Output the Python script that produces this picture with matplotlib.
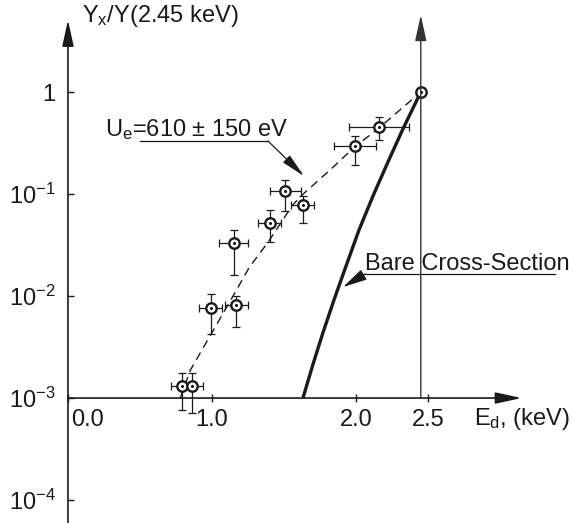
import numpy as np
import matplotlib
matplotlib.use("Agg")
import matplotlib.pyplot as plt
import matplotlib.transforms as mtransforms
from matplotlib.ticker import NullLocator

# deuteron energy (keV) vs. yield normalised at 2.45 keV
e_d = [0.79, 0.86, 0.99, 1.15, 1.17, 1.40, 1.51, 1.63, 1.99, 2.16, 2.45]
ratio = [1.31e-3, 1.31e-3, 7.7e-3, 3.3e-2, 8.1e-3, 5.2e-2, 0.107, 0.078, 0.297, 0.457, 1.0]
e_err = [0.075, 0.075, 0.083, 0.10, 0.083, 0.08, 0.11, 0.08, 0.146, 0.205, 0.0]
ratio_lo = [7.6e-4, 7.1e-4, 4.27e-3, 1.59e-2, 5.0e-3, 3.37e-2, 0.068, 0.052, 0.193, 0.34, 1.0]
ratio_hi = [1.76e-3, 1.76e-3, 1.04e-2, 4.4e-2, 1.01e-2, 6.95e-2, 0.137, 0.095, 0.373, 0.574, 1.0]

# screened fit (Ue = 610 eV), dashed
fit_e = [0.78, 0.85, 0.97, 1.15, 1.26, 1.39, 1.56, 1.64, 1.82, 1.99, 2.16, 2.45]
fit_y = [1.0e-3, 1.88e-3, 3.7e-3, 1.02e-2, 1.92e-2, 3.38e-2, 7.8e-2, 0.102, 0.172, 0.289, 0.444, 1.0]

# bare cross-section curve
bare_e = [1.632, 1.70, 1.77, 1.847, 1.931, 2.021, 2.118, 2.222, 2.326, 2.45]
bare_y = [1.0e-3, 2.11e-3, 4.34e-3, 9.14e-3, 1.97e-2, 4.44e-2, 9.55e-2, 0.206, 0.434, 1.0]

x_ticks = [0.0, 1.0, 2.0, 2.5]
x_labels = ["0.0", "1.0", "2.0", "2.5"]
y_ticks = [1e-4, 1e-3, 1e-2, 1e-1, 1.0]
y_labels = ["10$^{-4}$", "10$^{-3}$", "10$^{-2}$", "10$^{-1}$", "1"]

plt.rcParams["font.family"] = ["Liberation Sans", "DejaVu Sans"]
plt.rcParams["mathtext.fontset"] = "custom"
plt.rcParams["mathtext.rm"] = "Liberation Sans"
plt.rcParams["mathtext.it"] = "Liberation Sans:italic"
plt.rcParams["mathtext.bf"] = "Liberation Sans:bold"

INK = "#1a1a1a"
FS = 17

fig = plt.figure(figsize=(5.74, 5.23), dpi=100)
ax = fig.add_axes([0, 0, 1, 1])
ax.set_yscale("log")
ax.set_xlim(-0.472, 3.514)
ax.set_ylim(10 ** -4.225, 10 ** 0.902)
ax.patch.set_visible(False)

# axes drawn as arrows, ticks sit on the hidden spines
for s in ["top", "right", "left", "bottom"]:
    ax.spines[s].set_visible(False)
ax.spines["left"].set_position(("data", 0))
ax.spines["bottom"].set_position(("data", 1e-3))

def arrow(x0, y0, x1, y1, lw=1.2, hl=1.6, hw=0.35, color=INK):
    ax.annotate("", xy=(x1, y1), xytext=(x0, y0),
                arrowprops=dict(arrowstyle=f"-|>,head_length={hl},head_width={hw}",
                                lw=lw, color=color, shrinkA=0, shrinkB=0,
                                mutation_scale=10))

arrow(0, 10 ** -4.3, 0, 10 ** 0.706)          # y axis
arrow(0, 1e-3, 3.15, 1e-3)                    # x axis
arrow(2.45, 1e-3, 2.45, 10 ** 0.755, lw=1.0, color="#333333")

ax.set_xticks(x_ticks)
ax.set_xticklabels(x_labels)
ax.set_yticks(y_ticks)
ax.set_yticklabels(y_labels)
ax.yaxis.set_minor_locator(NullLocator())
ax.tick_params(axis="x", direction="inout", length=6, width=1, pad=5,
               labelsize=FS, colors=INK)
ax.tick_params(axis="y", direction="in", length=4, width=1, pad=9,
               labelsize=FS, colors=INK)
# the "0.0" label sits to the right of the y axis
lab0 = ax.get_xticklabels()[0]
lab0.set_transform(lab0.get_transform() +
                   mtransforms.ScaledTranslation(0.20, 0, fig.dpi_scale_trans))

# curves
ax.plot(bare_e, bare_y, color=INK, lw=2.4, solid_capstyle="butt")
ax.plot(fit_e, fit_y, color=INK, lw=1.0, ls=(0, (6, 4)))

# data with error bars
yerr = [np.array(ratio) - np.array(ratio_lo), np.array(ratio_hi) - np.array(ratio)]
ax.errorbar(e_d, ratio, xerr=e_err, yerr=yerr, fmt="none", ecolor=INK,
            elinewidth=0.9, capsize=3, capthick=0.9)
ax.plot(e_d, ratio, "o", ms=7.5, mfc="white", mec=INK, mew=1.7)
ax.plot(e_d, ratio, ".", ms=2.5, color=INK)

# labels
fig.text(82 / 574, 1 - 22 / 523, "Y$_{\\mathrm{x}}$/Y(2.45 keV)", fontsize=FS,
         ha="left", va="baseline", color=INK)
ax.text(2.82, 10 ** -3.265, "E$_{\\mathrm{d}}$, (keV)", fontsize=FS,
        ha="left", va="baseline", color=INK)

# Ue annotation
ax.text(0.257, 0.371, "U$_{\\mathrm{e}}$=610 ± 150 eV", fontsize=FS,
        ha="left", va="baseline", color=INK)
ax.plot([0.5, 1.389], [0.331, 0.331], color=INK, lw=0.9)
arrow(1.389, 0.331, 1.639, 0.150, lw=0.9, hl=1.5, hw=0.3)

# bare cross-section annotation
ax.text(2.0625, 0.01799, "Bare Cross-Section", fontsize=FS,
        ha="left", va="baseline", color=INK)
ax.plot([2.0625, 3.382], [0.01644, 0.01644], color=INK, lw=0.9)
arrow(2.0625, 0.01644, 1.910, 0.01225, lw=0.9, hl=1.5, hw=0.35)

fig.savefig("out.png", dpi=100)
